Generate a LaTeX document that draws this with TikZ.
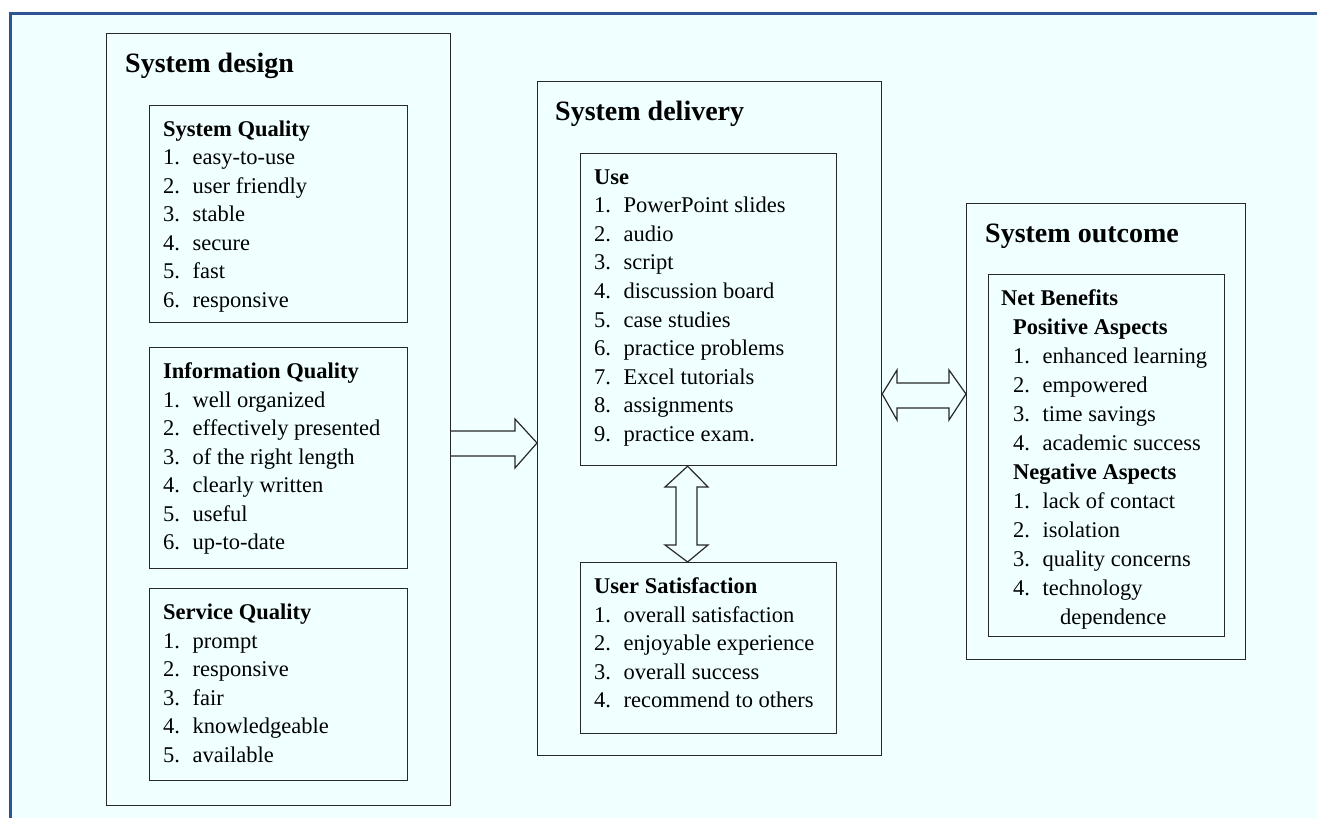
\documentclass[tikz,border=0pt]{standalone}
\usepackage{fontspec}
\setmainfont{Liberation Serif}
\usepackage{xcolor}
\usepackage{tikz}
\usetikzlibrary{calc}

\definecolor{bgcyan}{RGB}{240,255,255}
\definecolor{frameblue}{RGB}{45,85,145}
\definecolor{boxline}{RGB}{40,40,40}

\tikzset{
	box/.style = {draw = boxline, line width = 1.2pt, anchor = north west, inner sep = 0pt},
	title/.style = {font = \fontsize{28}{34}\selectfont\bfseries, anchor = base west, inner sep = 0pt},
	head/.style = {font = \fontsize{22.5}{28.5}\selectfont\bfseries, anchor = base west, inner sep = 0pt},
	item/.style = {font = \fontsize{22.5}{28.5}\selectfont, anchor = base west, inner sep = 0pt},
	blockarr/.style = {draw = boxline, line width = 1.2pt, fill = bgcyan, line join = miter}
}

\begin{document}
\begin{tikzpicture}[x = 1pt, y = -1pt]
			\def\LS{28.5};
			\def\NS{29};

			\useasboundingbox (0,0) rectangle (1317,818);

			\begin{scope}
				\fill [bgcyan] (10,14) rectangle (1330,830);
				\draw [frameblue, line width = 3pt] (10,830) -- (10,14) -- (1330,14);
			\end{scope}

			% system design
			\node [box, minimum width = 344, minimum height = 772] (design) at (106,33) {};
			\node [title] (designtitle) at ($(design.north west) + (19,40)$) {System design};

			\node [box, minimum width = 258, minimum height = 217] (sysq) at (149,105) {};
			\node [head] (sysqhead) at ($(sysq.north west) + (14,31.5)$) {System Quality};
			\foreach \t [count = \i] in {easy-to-use, user friendly, stable, secure, fast, responsive}
			{
				\node [item] (sysq-\i) at ($(sysq.north west) + (14,31.5 + \LS*\i)$) {\makebox[29.5pt][l]{\i.}\t};
			}

			\node [box, minimum width = 258, minimum height = 221] (infq) at (149,347) {};
			\node [head] (infqhead) at ($(infq.north west) + (14,31.5)$) {Information Quality};
			\foreach \t [count = \i] in {well organized, effectively presented, of the right length, clearly written, useful, up-to-date}
			{
				\node [item] (infq-\i) at ($(infq.north west) + (14,31.5 + \LS*\i)$) {\makebox[29.5pt][l]{\i.}\t};
			}

			\node [box, minimum width = 258, minimum height = 192] (servq) at (149,588) {};
			\node [head] (servqhead) at ($(servq.north west) + (14,31.5)$) {Service Quality};
			\foreach \t [count = \i] in {prompt, responsive, fair, knowledgeable, available}
			{
				\node [item] (servq-\i) at ($(servq.north west) + (14,31.5 + \LS*\i)$) {\makebox[29.5pt][l]{\i.}\t};
			}

			% system delivery
			\node [box, minimum width = 344, minimum height = 674] (delivery) at (537,81) {};
			\node [title] (deliverytitle) at ($(delivery.north west) + (18,40)$) {System delivery};

			\node [box, minimum width = 256, minimum height = 312] (use) at (580,153) {};
			\node [head] (usehead) at ($(use.north west) + (14,31.5)$) {Use};
			\foreach \t [count = \i] in {PowerPoint slides, audio, script, discussion board, case studies, practice problems, Excel tutorials, assignments, practice exam.}
			{
				\node [item] (use-\i) at ($(use.north west) + (14,31.5 + \LS*\i)$) {\makebox[29.5pt][l]{\i.}\t};
			}

			\node [box, minimum width = 256, minimum height = 171] (sat) at (580,562) {};
			\node [head] (sathead) at ($(sat.north west) + (14,31.5)$) {User Satisfaction};
			\foreach \t [count = \i] in {overall satisfaction, enjoyable experience, overall success, recommend to others}
			{
				\node [item] (sat-\i) at ($(sat.north west) + (14,31.5 + \LS*\i)$) {\makebox[29.5pt][l]{\i.}\t};
			}

			% system outcome
			\node [box, minimum width = 279, minimum height = 456] (outcome) at (966,203) {};
			\node [title] (outcometitle) at ($(outcome.north west) + (19,40)$) {System outcome};

			\node [box, minimum width = 236, minimum height = 362] (net) at (988,274) {};
			\node [head] (nethead) at ($(net.north west) + (13,31.5)$) {Net Benefits};
			\node [head] (poshead) at ($(net.north west) + (25,31.5 + \NS)$) {Positive Aspects};
			\foreach \t [count = \i] in {enhanced learning, empowered, time savings, academic success}
			{
				\node [item] (pos-\i) at ($(net.north west) + (25,31.5 + \NS + \NS*\i)$) {\makebox[29.5pt][l]{\i.}\t};
			}
			\node [head] (neghead) at ($(net.north west) + (25,31.5 + 6*\NS)$) {Negative Aspects};
			\foreach \t [count = \i] in {lack of contact, isolation, quality concerns, technology}
			{
				\node [item] (neg-\i) at ($(net.north west) + (25,31.5 + 6*\NS + \NS*\i)$) {\makebox[29.5pt][l]{\i.}\t};
			}
			\node [item] (neg-4b) at ($(neg-4.base west) + (47,\NS)$) {dependence};

			% arrows
			\draw [blockarr] (design.east |- 0,431) -- (515,431) -- (515,419) -- (delivery.west |- 0,443)
				-- (515,468) -- (515,456) -- (design.east |- 0,456);

			\draw [blockarr] ($(use.south) + (-21,0)$) -- (708,487) -- (697,487) -- (697,545) -- (708,545)
				-- ($(sat.north) + (-21,0)$) -- (665,545) -- (676,545) -- (676,487) -- (665,487) -- cycle;

			\draw [blockarr] (delivery.east |- 0,394) -- (897,370) -- (897,383) -- (949,383) -- (949,370)
				-- (outcome.west |- 0,394) -- (949,420) -- (949,408) -- (897,408) -- (897,420) -- cycle;
		\end{tikzpicture}
\end{document}
